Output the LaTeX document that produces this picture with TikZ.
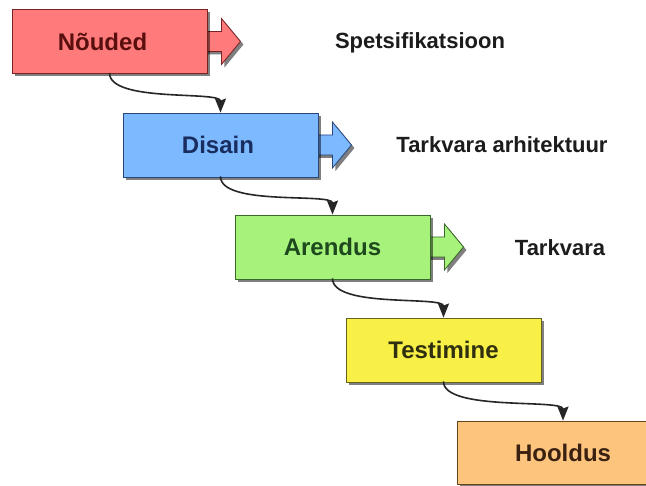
\documentclass[tikz,border=0pt]{standalone}
\usepackage{fontspec}
\setmainfont{Liberation Sans}
\usetikzlibrary{shadows,arrows.meta,backgrounds}
\definecolor{cRed}{RGB}{255,122,122}\definecolor{cRedD}{RGB}{120,35,35}\definecolor{cRedT}{RGB}{90,15,15}
\definecolor{cBlu}{RGB}{125,185,255}\definecolor{cBluD}{RGB}{40,70,120}\definecolor{cBluT}{RGB}{25,45,95}
\definecolor{cGrn}{RGB}{166,242,122}\definecolor{cGrnD}{RGB}{55,105,40}\definecolor{cGrnT}{RGB}{30,72,30}
\definecolor{cYel}{RGB}{248,240,70}\definecolor{cYelD}{RGB}{100,100,30}\definecolor{cYelT}{RGB}{48,48,16}
\definecolor{cOra}{RGB}{253,196,126}\definecolor{cOraD}{RGB}{100,70,30}\definecolor{cOraT}{RGB}{58,32,16}
\definecolor{cSide}{RGB}{28,28,28}
\newcommand\sidearr[3]{%
  \filldraw[fill=#2, draw=#3, line width=0.8pt, line join=miter, shade drop]
    ([xshift=-3pt]#1.east) ++(0,-10) -- ++(17,0) -- ++(0,-13) -- ++(19,23)
    -- ++(-19,23) -- ++(0,-13) -- ++(-17,0) -- cycle;}
\begin{document}
\begin{tikzpicture}[x=1pt,y=-1pt,
  shade drop/.style={drop shadow={shadow xshift=3pt, shadow yshift=-3pt, opacity=0.5, fill=black}},
  box/.style={draw, line width=0.9pt, minimum width=195pt, minimum height=64pt, inner sep=0pt,
    font=\fontsize{24}{28}\selectfont\bfseries, shade drop},
  side/.style={font=\fontsize{22}{26}\selectfont\bfseries, text=cSide, inner sep=0pt},
  conn/.style={line width=1.6pt, draw=black!85, -{Stealth[length=14pt,width=11pt,inset=2pt]}}]
\useasboundingbox (0,0) rectangle (646,486);
\node[box, fill=cRed, draw=cRedD, text=cRedT] (n1) at (109.5,41.5) {\hspace*{-14pt}Nõuded};
\node[box, fill=cBlu, draw=cBluD, text=cBluT] (n2) at (220.5,145) {\hspace*{-5pt}Disain};
\node[box, fill=cGrn, draw=cGrnD, text=cGrnT] (n3) at (332.5,247) {Arendus};
\node[box, fill=cYel, draw=cYelD, text=cYelT] (n4) at (443.5,350) {Testimine};
\node[box, fill=cOra, draw=cOraD, text=cOraT, minimum width=212pt, minimum height=63pt] (n5) at (563,452.5) {Hooldus};
\node[side] (l1) at (420,43) {Spetsifikatsioon};
\node[side] (l2) at (502,145) {Tarkvara arhitektuur};
\node[side] (l3) at (560,248) {Tarkvara};
\begin{scope}[on background layer]
  \fill[white] (0,0) rectangle (646,486);
  \sidearr{n1}{cRed}{cRedD}
  \sidearr{n2}{cBlu}{cBluD}
  \sidearr{n3}{cGrn}{cGrnD}
\end{scope}
\draw[conn] ([yshift=1pt]n1.south) .. controls +(0,30) and +(0,-22) .. (n2.north);
\draw[conn] ([yshift=1pt]n2.south) .. controls +(0,30) and +(0,-22) .. (n3.north);
\draw[conn] ([yshift=1pt]n3.south) .. controls +(0,30) and +(0,-22) .. (n4.north);
\draw[conn] ([yshift=1pt]n4.south) .. controls +(0,30) and +(0,-22) .. (n5.north);
\end{tikzpicture}
\end{document}
